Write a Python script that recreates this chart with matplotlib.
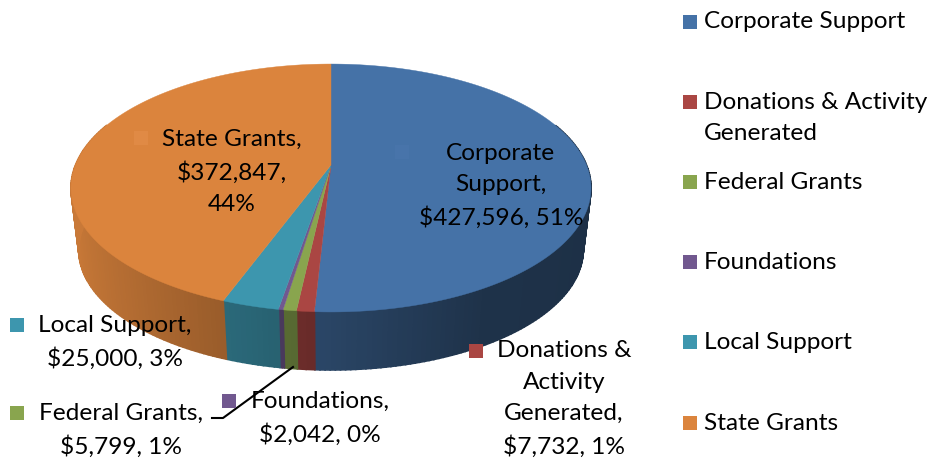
import numpy as np
import matplotlib
matplotlib.use("Agg")
import matplotlib.pyplot as plt
from matplotlib.colors import to_rgb

plt.rcParams["font.family"] = ["Lato", "DejaVu Sans"]

categories = ["Corporate Support", "Donations & Activity Generated", "Federal Grants",
              "Foundations", "Local Support", "State Grants"]
values = [427596, 7732, 5799, 2042, 25000, 372847]
colors = ["#4572A7", "#AA4643", "#89A54E", "#71588F", "#3D96AE", "#DB843D"]
key_colors = ["#4874AA", "#AA4643", "#89A54E", "#71588F", "#3D96AE", "#E08A45"]

legend_labels = ["Corporate Support", "Donations & Activity\nGenerated", "Federal Grants",
                 "Foundations", "Local Support", "State Grants"]
slice_labels = ["Corporate\nSupport,\n$427,596, 51%", "Donations &\nActivity\nGenerated,\n$7,732, 1%",
                "Federal Grants,\n$5,799, 1%", "Foundations,\n$2,042, 0%",
                "Local Support,\n$25,000, 3%", "State Grants,\n$372,847,\n44%"]

FS = 17.6
SPACING = 1.6

fig = plt.figure(figsize=(9.29, 4.61), dpi=100)
ax = fig.add_axes([0, 0, 1, 1])
ax.set_xlim(0, 929)
ax.set_ylim(461, 0)
ax.axis("off")


# tilted circle with a little perspective, the hub sits above the ellipse middle
def project(t, scale=1.0, hub_y=165.0):
    u = np.sin(t)
    v = np.cos(t)
    w = 1 + 0.1855 * v
    return 331 + scale * 255.5 * u / w, hub_y - scale * 119.7 * v / w


def side_shade(t):
    return np.interp(np.sin(t), [-1, -0.35, 0, 0.5, 1], [0.92, 0.70, 0.60, 0.44, 0.42])


fracs = np.array(values) / sum(values)
edges = np.concatenate([[0], np.cumsum(fracs)]) * 2 * np.pi

# side wall first, the top covers whatever is at the back
for i in range(len(values)):
    ts = np.linspace(edges[i], edges[i + 1], max(3, int((edges[i + 1] - edges[i]) * 60)))
    for a, b in zip(ts[:-1], ts[1:]):
        mid = (a + b) / 2
        if np.cos(mid) > 0.35:
            continue
        seg = np.array([a, b])
        x1, y1 = project(seg)
        x2, y2 = project(seg[::-1], 0.97, 227.4)
        col = np.array(to_rgb(colors[i])) * side_shade(mid)
        ax.fill(np.r_[x1, x2], np.r_[y1, y2], color=col, lw=1.2, zorder=2)

# top face
for i in range(len(values)):
    ts = np.linspace(edges[i], edges[i + 1], 200)
    x, y = project(ts)
    ax.fill(np.r_[331, x], np.r_[165, y], color=colors[i], lw=0.3, zorder=3)

# leader line for Federal Grants
ax.plot([212, 223, 293], [418, 418, 367], color="black", lw=1.5, zorder=4)

# data labels
label_pos = [(501, 186), (564, 399), (121, 430), (320, 418), (115, 342), (232, 172)]
for lab, (x, y) in zip(slice_labels, label_pos):
    ax.text(x, y, lab, ha="center", va="center", fontsize=FS, linespacing=SPACING, color="black", zorder=6)

# little keys beside the data labels
key_pos = [(402, 152), (476, 351), (17, 413), (229, 401), (17, 325), (141, 138)]
for i, (x, y) in enumerate(key_pos):
    ax.scatter([x], [y], marker="s", s=108, color=key_colors[i], linewidths=0, zorder=5)

# legend
legend_y = [22, 102, 182, 262, 342, 423]
legend_text_y = [22, 118, 182, 262, 342, 423]
for i, lab in enumerate(legend_labels):
    ax.scatter([690.5], [legend_y[i]], marker="s", s=108, color=colors[i], linewidths=0, zorder=5)
    ax.text(704, legend_text_y[i], lab, ha="left", va="center",
            fontsize=FS, linespacing=SPACING, color="black", zorder=6)

fig.savefig("out.png", dpi=100)
